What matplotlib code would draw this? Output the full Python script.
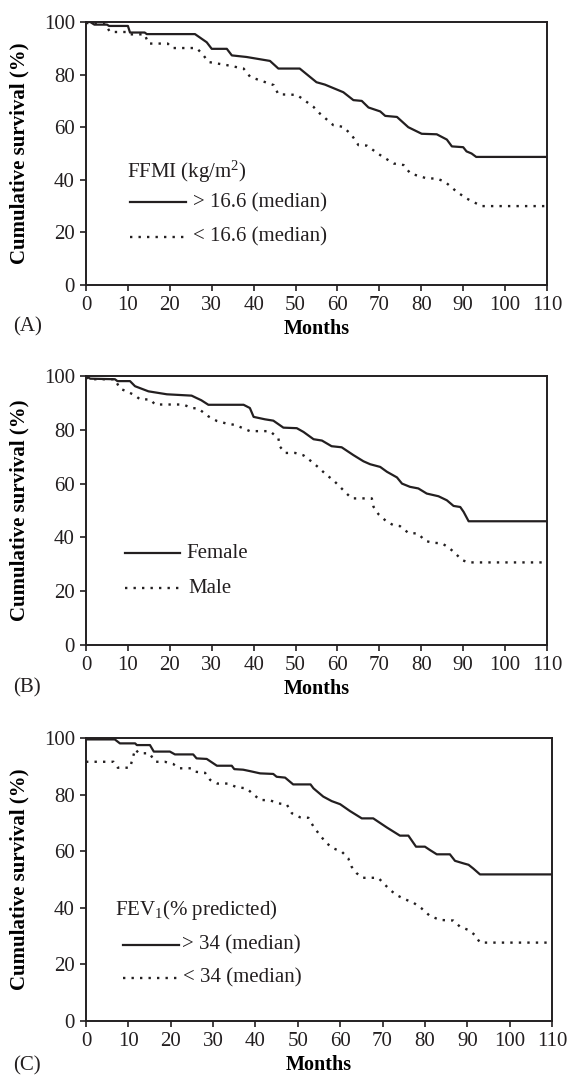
import matplotlib

matplotlib.use("Agg", force=True)

import matplotlib.pyplot as plt
from matplotlib.transforms import blended_transform_factory

# Panel A: FFMI split at the median (months, cumulative survival %)
ffmi_high_t = [0, 1, 2, 5, 5.5, 10, 10.5, 14, 14.5, 26, 28.8, 30, 33.6, 34.8, 38.3, 43.9, 45.9,
               51, 55, 57, 61.4, 63.8, 65.8, 67.4, 70.2, 71.4, 74.2, 76.9, 80.1, 83.7, 86.1,
               87.3, 90, 90.8, 92, 93.1, 110]
ffmi_high_s = [100, 100, 99, 99, 98.5, 98.5, 96, 96, 95.4, 95.4, 92.3, 89.8, 89.8, 87.3, 86.7,
               85.2, 82.3, 82.3, 77.1, 76.2, 73.3, 70.3, 70, 67.5, 66, 64.3, 63.9, 60, 57.5,
               57.3, 55.3, 52.7, 52.4, 50.8, 50, 48.7, 48.7]
ffmi_low_t = [0, 4.5, 5.7, 10, 10.5, 14, 14.9, 19.5, 20.5, 26.4, 28, 29.2, 33.6, 37.6, 39.2, 44.8,
              45.9, 50.3, 51.9, 54.3, 55.8, 59, 61.4, 63.4, 65, 67, 70.2, 73.4, 75.8, 77.4, 81.4,
              83.7, 85.7, 88.5, 90.8, 92.4, 94.4, 110]
ffmi_low_s = [99.6, 99.6, 96.2, 96.2, 95.3, 95.3, 91.8, 91.8, 90.1, 90.1, 87.4, 84.8, 83.6, 82.3,
              79.1, 76, 72.5, 72.3, 70.5, 67.7, 65.2, 60.8, 60.1, 57, 53.2, 53, 49.4, 46.2, 45.6,
              42.4, 40.5, 40.5, 39.2, 35.4, 32.9, 31.6, 30, 30]

# Panel B: sex
female_t = [0, 1, 6.9, 7.5, 10.5, 11.7, 14.9, 19.3, 25.2, 26.4, 27.5, 29.2, 37.6, 39.1, 40, 42.7,
            44.7, 47.1, 50.3, 51.9, 54.3, 56.3, 58.6, 61, 63.8, 66.2, 67.8, 70.2, 71.8, 74.2,
            75.4, 77.3, 79.3, 81.3, 84.1, 86.1, 87.7, 89.3, 90.1, 91.3, 110]
female_s = [100, 99, 98.8, 98.1, 98.1, 96.2, 94.3, 93.2, 92.7, 91.8, 91, 89.3, 89.3, 88.1, 84.8,
            83.9, 83.4, 80.8, 80.6, 79.2, 76.5, 76, 73.9, 73.5, 70.6, 68.3, 67.2, 66.2, 64.4,
            62.3, 60, 58.8, 58.2, 56.3, 55.3, 53.8, 51.7, 51.3, 49.5, 46, 46]
male_t = [0, 1, 6.9, 8.1, 9.7, 11.7, 12.9, 15.3, 16.5, 23.2, 25.2, 26.8, 29.2, 31.2, 33.6, 35.6,
          37.6, 39.1, 43.9, 45.9, 46.3, 47.5, 49.9, 51.9, 53.9, 55.4, 57.4, 59, 60.6, 62.2, 63.4,
          68.2, 68.6, 69.8, 71.8, 73.3, 74.9, 76.9, 79.3, 80.9, 82.9, 84.9, 86.5, 88.1, 89.7,
          91.2, 110]
male_s = [99.5, 98.8, 98.8, 95.3, 94.3, 92.8, 91.3, 91.3, 89.4, 89.4, 88.1, 87.9, 85, 83.3, 82.3,
          81.8, 80.5, 79.5, 79.5, 76.8, 73.7, 71.4, 71.4, 70.5, 68.1, 66.1, 63.2, 61.3, 58.8,
          56.3, 54.5, 54.5, 51.4, 48.6, 45.8, 44.6, 44.2, 41.7, 41.4, 38.7, 38, 37.8, 36.3,
          34.1, 31.6, 30.7, 30.7]

# Panel C: FEV1 split at the median
fev_high_t = [0, 6.8, 8, 11.6, 12, 15.1, 16, 19.8, 21, 25.3, 26.1, 28.5, 30.9, 34.4, 35, 37.1,
              38.7, 41.1, 44.2, 45, 47, 48.9, 53, 53.7, 56, 58, 60, 62.3, 65.1, 67.8, 71, 74.1,
              76.1, 77.9, 80, 81.2, 82.8, 85.9, 87.1, 89.1, 90.3, 91.4, 93, 110]
fev_high_s = [99.5, 99.5, 98.1, 98.1, 97.5, 97.5, 95.2, 95.2, 94.2, 94.2, 92.8, 92.6, 90.2, 90.2,
              89, 88.8, 88.3, 87.5, 87.3, 86.3, 86, 83.6, 83.6, 82.2, 79.3, 77.7, 76.6, 74.2,
              71.6, 71.6, 68.4, 65.5, 65.5, 61.6, 61.6, 60.4, 58.9, 58.9, 56.6, 55.7, 55.2,
              53.9, 51.8, 51.8]
fev_low_t = [0, 6.5, 7.5, 10.4, 11.6, 12.5, 15, 16.3, 18.6, 20.6, 22, 24.8, 25.7, 28.1, 29.3, 31,
             33.5, 35.6, 37.9, 39.5, 41.1, 43.4, 45.4, 47.4, 48.6, 50.5, 52.5, 53.7, 55.2, 56.8,
             58.4, 60.4, 61.9, 62.7, 63.9, 65.3, 69, 70.2, 71.8, 73.3, 75.3, 77.3, 79.2, 81.2,
             83.6, 86.7, 88.3, 90.2, 91.8, 93, 110]
fev_low_s = [91.6, 91.6, 89.5, 89.5, 96, 94.6, 94.6, 91.6, 91.6, 90.8, 89.3, 89.3, 88.1, 87.7,
             85.2, 83.9, 83.9, 82.6, 82.2, 80.1, 78.1, 78, 76.9, 76.5, 73.4, 72, 71.8, 68.7,
             65.7, 62.8, 61, 59.8, 57.5, 54.5, 52.2, 50.6, 50.6, 48.7, 46.3, 44.5, 43, 41.8,
             39.8, 37.1, 35.7, 35.5, 33.3, 32.2, 30.4, 27.7, 27.7]

x_ticks = list(range(0, 111, 10))
y_ticks = [0, 20, 40, 60, 80, 100]

INK = "#231f20"
SOLID = dict(color=INK, linewidth=1.6, linestyle="-")
DOTTED = dict(color=INK, linewidth=1.7, linestyle=(0, (1, 2.6)))
TXT = 15

plt.rcParams.update({
    "font.family": ["Liberation Serif", "DejaVu Serif"],
    "mathtext.fontset": "custom",
    "mathtext.rm": "Liberation Serif",
    "mathtext.it": "Liberation Serif:italic",
    "mathtext.bf": "Liberation Serif:bold",
    "font.size": TXT,
    "axes.linewidth": 1.4,
    "axes.edgecolor": INK,
    "xtick.color": INK,
    "ytick.color": INK,
    "text.color": INK,
    "xtick.major.size": 4,
    "ytick.major.size": 4,
    "xtick.major.width": 1.2,
    "ytick.major.width": 1.2,
})

W, H = 573, 1079
fig = plt.figure(figsize=(W / 100, H / 100), dpi=100)


def make_axes(left, right, top, bottom):
    return fig.add_axes([left / W, 1 - bottom / H, (right - left) / W, (bottom - top) / H])


def style_axes(ax, panel):
    ax.set_xlim(0, 110)
    ax.set_ylim(0, 100)
    ax.set_xticks(x_ticks)
    ax.set_yticks(y_ticks)
    ax.tick_params(direction="out", pad=4, labelsize=TXT)
    ax.set_xlabel("Months", fontweight="bold", fontsize=14.5, labelpad=3)
    ax.set_ylabel("Cumulative survival (%)", fontweight="bold", fontsize=15, labelpad=10)
    # panel letter sits at the far left of the figure, level with "Months"
    trans = blended_transform_factory(fig.transFigure, ax.transAxes)
    ax.text(13 / W, -0.16, panel, transform=trans, fontsize=TXT, va="center", ha="left")


def key_line(ax, x0, x1, y, style):
    ax.plot([x0, x1], [y, y], transform=ax.transAxes, clip_on=False, **style)


# (A)
ax_a = make_axes(86, 547, 22, 285)
ax_a.plot(ffmi_high_t, ffmi_high_s, **SOLID)
ax_a.plot(ffmi_low_t, ffmi_low_s, **DOTTED)
style_axes(ax_a, "(A)")
ax_a.text(0.088, 0.431, "FFMI (kg/m$^2$)", transform=ax_a.transAxes, va="center")
key_line(ax_a, 0.0955, 0.217, 0.314, SOLID)
ax_a.text(0.233, 0.314, "> 16.6 (median)", transform=ax_a.transAxes, va="center")
key_line(ax_a, 0.0955, 0.217, 0.184, DOTTED)
ax_a.text(0.233, 0.184, "< 16.6 (median)", transform=ax_a.transAxes, va="center")

# (B)
ax_b = make_axes(86, 547, 376, 645)
ax_b.plot(female_t, female_s, **SOLID)
ax_b.plot(male_t, male_s, **DOTTED)
style_axes(ax_b, "(B)")
key_line(ax_b, 0.0846, 0.204, 0.341, SOLID)
ax_b.text(0.218, 0.341, "Female", transform=ax_b.transAxes, va="center")
key_line(ax_b, 0.0846, 0.204, 0.211, DOTTED)
ax_b.text(0.223, 0.211, "Male", transform=ax_b.transAxes, va="center")

# (C)
ax_c = make_axes(86, 552, 738, 1021)
ax_c.plot(fev_high_t, fev_high_s, **SOLID)
ax_c.plot(fev_low_t, fev_low_s, **DOTTED)
style_axes(ax_c, "(C)")
ax_c.text(0.062, 0.392, "FEV$_1$(% predicted)", transform=ax_c.transAxes, va="center")
key_line(ax_c, 0.080, 0.200, 0.269, SOLID)
ax_c.text(0.205, 0.269, "> 34 (median)", transform=ax_c.transAxes, va="center")
key_line(ax_c, 0.080, 0.200, 0.153, DOTTED)
ax_c.text(0.208, 0.153, "< 34 (median)", transform=ax_c.transAxes, va="center")

fig.savefig("out.png", dpi=100, facecolor="white")
